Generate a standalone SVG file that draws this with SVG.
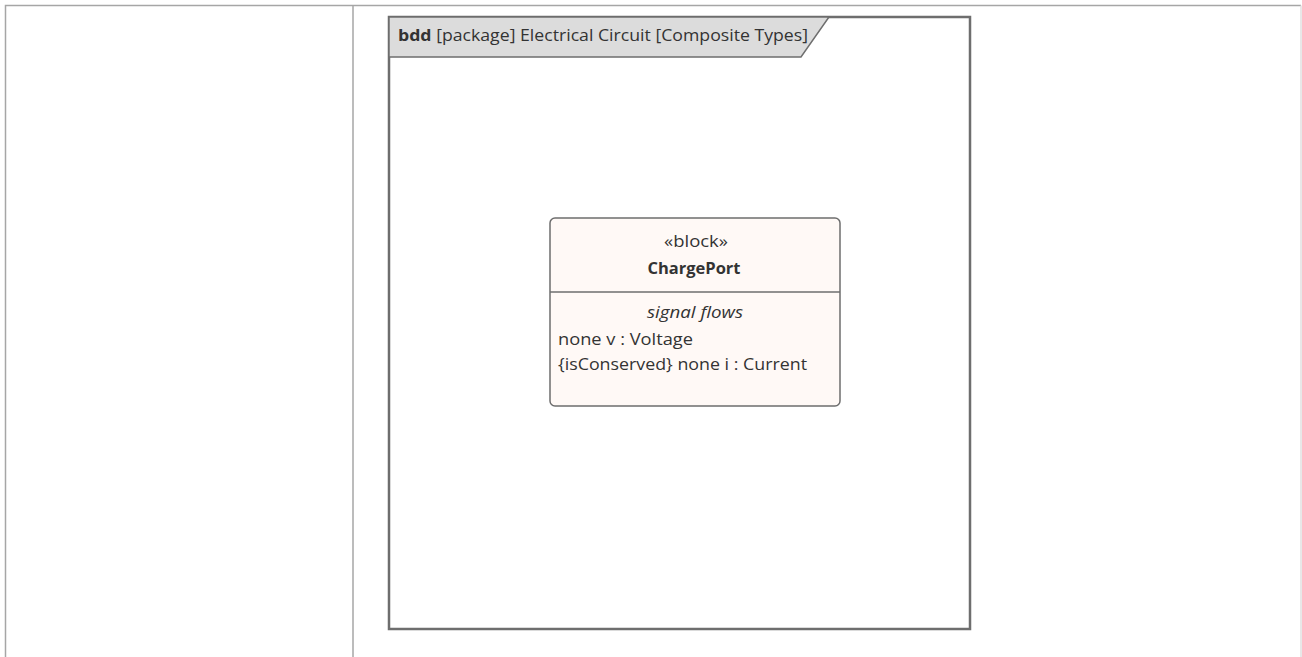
<svg xmlns="http://www.w3.org/2000/svg" width="1302" height="657" viewBox="0 0 1302 657">
<style>
.t{font-family:"Open Sans","Noto Sans",sans-serif;font-size:16.5px;fill:#333}
</style>
<rect width="1302" height="657" fill="#fff"/>
<g id="table" fill="none" stroke="#a6a6a6" stroke-width="1.5">
<path d="M5.5 657 V5.5 H1301"/>
<path d="M353 5.5 V657"/>
<path d="M1301 5.5 V657" stroke="#e0e0e0"/>
</g>
<g id="frame">
<rect x="389" y="17" width="581" height="612" fill="#fff" stroke="#6e6e6e" stroke-width="2.5"/>
<path d="M389 17 H829 L801 57 H389 Z" fill="#dcdcdc" stroke="#6e6e6e" stroke-width="1.5"/>
<text class="t" x="398" y="41" textLength="410" lengthAdjust="spacingAndGlyphs"><tspan font-weight="bold">bdd</tspan> [package] Electrical Circuit [Composite Types]</text>
</g>
<g id="ChargePort">
<rect x="550" y="218" width="290" height="188" rx="5" fill="#fff9f6" stroke="#6e6e6e" stroke-width="1.5"/>
<line x1="550" y1="292" x2="840" y2="292" stroke="#6e6e6e" stroke-width="1.5"/>
<text class="t" x="696" y="247" text-anchor="middle" textLength="64" lengthAdjust="spacingAndGlyphs">«block»</text>
<text class="t" x="694" y="274" text-anchor="middle" font-weight="bold" textLength="93" lengthAdjust="spacingAndGlyphs">ChargePort</text>
<text class="t" x="695" y="318" text-anchor="middle" font-style="italic" textLength="96" lengthAdjust="spacingAndGlyphs">signal flows</text>
<text class="t" x="558" y="345" textLength="135" lengthAdjust="spacingAndGlyphs">none v : Voltage</text>
<text class="t" x="558" y="370" textLength="249" lengthAdjust="spacingAndGlyphs">{isConserved} none i : Current</text>
</g>
<g id="connectors"/>
</svg>
